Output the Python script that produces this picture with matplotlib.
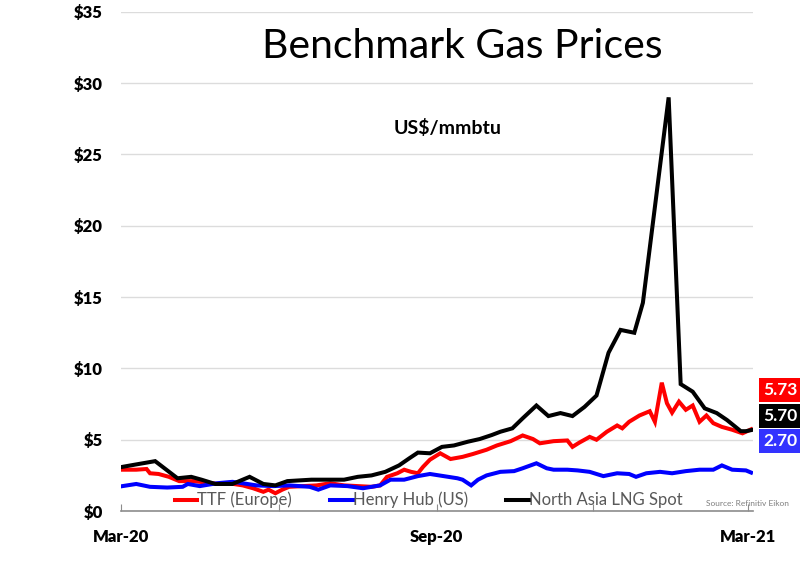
import numpy as np
import pandas as pd
import matplotlib
matplotlib.use("Agg")
import matplotlib.pyplot as plt

plt.rcParams['font.family'] = ['Lato', 'DejaVu Sans']

# days counted from the first observation
start_date = "2020-03-02"

ttf_days = [0, 8, 14, 16, 21, 27, 33, 41, 49, 55, 62, 70, 76, 82, 85, 89, 93, 97,
            105, 113, 121, 129, 137, 145, 150, 154, 160, 164, 168, 172, 175, 179,
            185, 191, 198, 204, 212, 218, 226, 233, 239, 243, 251, 259, 262, 266,
            272, 276, 282, 288, 291, 295, 301, 307, 310, 314, 317, 320, 324, 328,
            332, 336, 340, 344, 349, 355, 361, 366]
ttf_vals = [2.9, 2.9, 2.95, 2.65, 2.6, 2.4, 2.1, 2.1, 2.0, 1.9, 1.95, 1.8, 1.6, 1.35,
            1.5, 1.25, 1.5, 1.7, 1.75, 1.8, 1.95, 1.8, 1.75, 1.7, 1.8, 2.4, 2.65, 2.9,
            2.75, 2.65, 3.1, 3.6, 4.05, 3.65, 3.8, 4.0, 4.3, 4.6, 4.9, 5.3, 5.05, 4.75,
            4.9, 4.95, 4.5, 4.8, 5.2, 5.0, 5.56, 6.0, 5.8, 6.26, 6.7, 7.0, 6.26, 9.0,
            7.56, 6.9, 7.67, 7.1, 7.4, 6.26, 6.7, 6.16, 5.9, 5.7, 5.45, 5.73]

hh_days = [0, 8, 16, 26, 35, 38, 45, 55, 64, 70, 78, 88, 97, 109, 114, 121, 131,
           140, 150, 156, 164, 172, 179, 187, 195, 198, 203, 207, 212, 220, 228,
           233, 241, 247, 251, 259, 265, 272, 280, 288, 295, 299, 305, 313, 320,
           328, 336, 344, 349, 355, 363, 366]
hh_vals = [1.75, 1.9, 1.7, 1.65, 1.7, 1.9, 1.75, 1.95, 2.05, 1.95, 1.8, 1.75, 1.8,
           1.7, 1.5, 1.8, 1.75, 1.6, 1.8, 2.2, 2.2, 2.45, 2.6, 2.45, 2.3, 2.2, 1.8,
           2.2, 2.5, 2.75, 2.8, 3.0, 3.35, 3.0, 2.9, 2.9, 2.85, 2.75, 2.45, 2.65,
           2.6, 2.4, 2.65, 2.75, 2.65, 2.8, 2.9, 2.9, 3.2, 2.9, 2.85, 2.70]

lng_days = [0, 7, 19, 32, 40, 46, 54, 64, 74, 82, 89, 96, 110, 129, 137, 145, 153,
            161, 167, 172, 179, 186, 193, 201, 208, 215, 220, 227, 233, 241, 248,
            255, 262, 269, 276, 283, 290, 298, 303, 318, 325, 332, 339, 346, 352,
            360, 363, 367]
lng_vals = [3.1, 3.25, 3.5, 2.3, 2.4, 2.2, 1.9, 1.9, 2.4, 1.9, 1.8, 2.1, 2.2, 2.2,
            2.4, 2.5, 2.75, 3.2, 3.7, 4.1, 4.05, 4.5, 4.6, 4.86, 5.05, 5.33, 5.56,
            5.8, 6.5, 7.4, 6.66, 6.87, 6.66, 7.3, 8.1, 11.1, 12.7, 12.5, 14.6, 29.0,
            8.9, 8.37, 7.2, 6.87, 6.38, 5.6, 5.6, 5.70]

series_names = ["TTF (Europe)", "Henry Hub (US)", "North Asia LNG Spot"]
series_colors = ["#ff0000", "#0000ff", "#000000"]
label_colors = ["#ff0000", "#000000", "#3333ff"]

y_ticks = [0, 5, 10, 15, 20, 25, 30, 35]
x_ticks = ["2020-03-01", "2020-06-01", "2020-09-01", "2020-12-01", "2021-03-01"]
x_tick_labels = ["Mar-20", "", "Sep-20", "", "Mar-21"]


def to_dates(days):
    return pd.Timestamp(start_date) + pd.to_timedelta(days, unit="D")


fig = plt.figure(figsize=(8, 5.61), dpi=100)
ax = fig.add_axes([0.151, 0.089, 0.790, 0.890])

for days, vals, name, col in zip([ttf_days, hh_days, lng_days],
                                 [ttf_vals, hh_vals, lng_vals],
                                 series_names, series_colors):
    ax.plot(to_dates(days), vals, color=col, lw=2.9, label=name,
            solid_joinstyle="miter")

ax.set_ylim(0, 35)
ax.set_xlim(pd.Timestamp("2020-03-01"), pd.Timestamp("2021-03-04"))
ax.set_yticks(y_ticks)
ax.set_yticklabels([f"${v}" for v in y_ticks], fontweight="heavy", fontsize=12)
ax.set_xticks(pd.to_datetime(x_ticks))
ax.set_xticklabels(x_tick_labels, fontweight="heavy", fontsize=12)
ax.tick_params(axis="y", length=0, pad=13)
ax.tick_params(axis="x", direction="in", length=5, color="#8c8c8c", pad=13)
ax.grid(axis="y", color="#dcdcdc", lw=1)
ax.set_axisbelow(True)
for s in ["top", "right", "left"]:
    ax.spines[s].set_visible(False)
ax.spines["bottom"].set_color("#8c8c8c")
ax.spines["bottom"].set_linewidth(1.2)

leg = ax.legend(loc="center left", bbox_to_anchor=(0.085, 0.022), ncol=3,
                frameon=False, handlelength=1.35, handletextpad=0.0,
                columnspacing=2.3, fontsize=12, borderpad=0, borderaxespad=0)
for t in leg.get_texts():
    t.set_color("#595959")

# last value boxes on the right
last_vals = [ttf_vals[-1], lng_vals[-1], hh_vals[-1]]
box_y = [8.49, 6.66, 4.9]
for v, yy, c in zip(last_vals, box_y, label_colors):
    ax.text(1.016, yy, f"{v:.2f}", transform=ax.get_yaxis_transform(),
            color="white", fontweight="bold", fontsize=12.5, va="center", ha="left",
            bbox=dict(boxstyle="square,pad=0.22", fc=c, ec="none"), clip_on=False)

fig.text(0.578, 0.918, "Benchmark Gas Prices", ha="center", va="center", fontsize=29.5)
fig.text(0.56, 0.772, "US$/mmbtu", ha="center", va="center", fontsize=14,
         fontweight="bold")
fig.text(0.883, 0.103, "Source: Refinitiv Eikon", ha="left", va="center",
         fontsize=6, color="#7f7f7f")

fig.savefig("out.png", dpi=100)
